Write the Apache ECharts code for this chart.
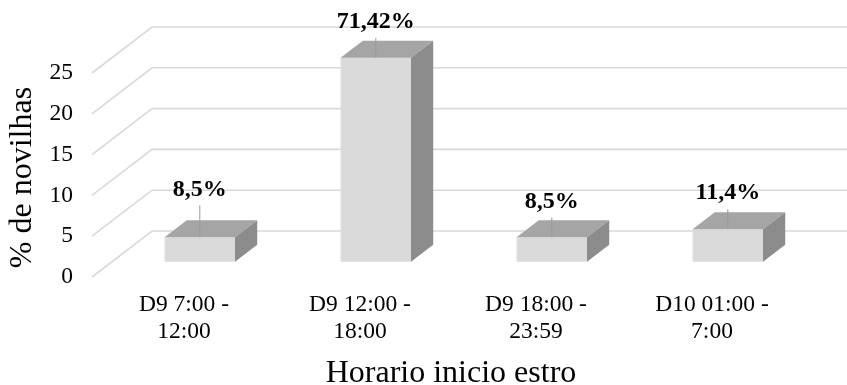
<!DOCTYPE html>
<html>
<head>
<meta charset="utf-8">
<script src="https://cdn.jsdelivr.net/npm/echarts@6/dist/echarts.min.js"></script>
<style>
  html, body { margin: 0; padding: 0; background: #fff; }
  #chart { width: 847px; height: 385px; }
</style>
</head>
<body>
<div id="chart"></div>
<script>
// Onset-of-heat time windows and number of heifers in each
const categories = ['D9 7:00 -\n12:00', 'D9 12:00 -\n18:00', 'D9 18:00 -\n23:59', 'D10 01:00 -\n7:00'];
const heifers = [3, 25, 3, 4];
const shareLabels = ['8,5%', '71,42%', '8,5%', '11,4%'];
const yTicks = [0, 5, 10, 15, 20, 25];

const FONT = '"Liberation Serif", "Times New Roman", serif';

// Oblique 3D look: the floor recedes by this vector (px)
const DEPTH_X = 60;
const DEPTH_Y = -46;
// Bars sit between these fractions of the floor depth
const BAR_FRONT = 0.33;
const BAR_BACK = 0.70;
const BAR_WIDTH = 0.40;          // share of the category band
const LABEL_LIFT = [12, 0, 0, 0]; // extra lift for crowded labels

const chart = echarts.init(document.getElementById('chart'), null, { renderer: 'canvas' });

function renderWall(params, api) {
  const cs = params.coordSys;
  const y = api.coord([0, api.value(1)])[1];
  return {
    type: 'polyline',
    silent: true,
    shape: {
      points: [
        [cs.x, y],
        [cs.x + DEPTH_X, y + DEPTH_Y],
        [cs.x + cs.width + DEPTH_X + 10, y + DEPTH_Y]
      ]
    },
    style: { stroke: '#d9d9d9', lineWidth: 1.6, fill: null }
  };
}

function renderBar(params, api) {
  const i = api.value(0);
  const v = api.value(1);
  const base = api.coord([i, 0]);
  const top = api.coord([i, v]);
  const band = api.size([1, 0])[0];
  const w = band * BAR_WIDTH;
  const ox = DEPTH_X * BAR_FRONT, oy = DEPTH_Y * BAR_FRONT;
  const dx = DEPTH_X * (BAR_BACK - BAR_FRONT), dy = DEPTH_Y * (BAR_BACK - BAR_FRONT);
  const x0 = base[0] - w / 2 + ox, x1 = base[0] + w / 2 + ox;
  const yb = base[1] + oy, yt = top[1] + oy;
  const cx = (x0 + x1) / 2;
  const lift = LABEL_LIFT[params.dataIndex] || 0;
  return {
    type: 'group',
    children: [
      {
        type: 'rect',
        shape: { x: x0, y: yt, width: x1 - x0, height: yb - yt },
        style: { fill: '#dadada' }
      },
      {
        type: 'polygon',
        shape: { points: [[x0, yt], [x1, yt], [x1 + dx, yt + dy], [x0 + dx, yt + dy]] },
        style: { fill: '#a5a5a5' }
      },
      {
        type: 'polygon',
        shape: { points: [[x1, yb], [x1, yt], [x1 + dx, yt + dy], [x1 + dx, yb + dy]] },
        style: { fill: '#8c8c8c' }
      },
      {
        type: 'line',
        shape: { x1: cx, y1: yt - 20 - lift, x2: cx, y2: yt },
        style: { stroke: '#9a9a9a', lineWidth: 1 }
      },
      {
        type: 'text',
        style: {
          x: cx,
          y: yt - 36 - lift,
          text: shareLabels[params.dataIndex],
          font: 'bold 24px ' + FONT,
          fill: '#000',
          align: 'center',
          verticalAlign: 'middle'
        }
      }
    ]
  };
}

chart.setOption({
  backgroundColor: '#fff',
  animation: false,
  grid: { left: 92, right: 51, top: 73, bottom: 108, containLabel: false, outerBoundsMode: 'none' },
  xAxis: {
    type: 'category',
    data: categories,
    axisLine: { show: false },
    axisTick: { show: false },
    splitLine: { show: false },
    axisLabel: {
      margin: 14,
      fontFamily: FONT,
      fontSize: 23.5,
      lineHeight: 27,
      color: '#000',
      padding: [0, 0, 0, 8]
    },
    name: 'Horario inicio estro',
    nameLocation: 'middle',
    nameGap: 81,
    nameTextStyle: { fontFamily: FONT, fontSize: 32, color: '#000', padding: [0, 0, 0, 14] }
  },
  yAxis: {
    type: 'value',
    min: 0,
    max: 25,
    interval: 5,
    axisLine: { show: false },
    axisTick: { show: false },
    splitLine: { show: false },
    axisLabel: { margin: 19, fontFamily: FONT, fontSize: 23.5, color: '#000' },
    name: '% de novilhas',
    nameLocation: 'middle',
    nameGap: 50,
    nameTextStyle: { fontFamily: FONT, fontSize: 32, color: '#000', padding: [0, 0, 0, -5] }
  },
  series: [
    {
      type: 'custom',
      name: 'wall',
      renderItem: renderWall,
      data: yTicks.map(t => [0, t]),
      encode: { x: 0, y: 1 },
      z: 1,
      silent: true
    },
    {
      type: 'custom',
      name: 'heifers',
      renderItem: renderBar,
      data: heifers.map((v, i) => [i, v]),
      encode: { x: 0, y: 1 },
      z: 2
    }
  ]
});
</script>
</body>
</html>
